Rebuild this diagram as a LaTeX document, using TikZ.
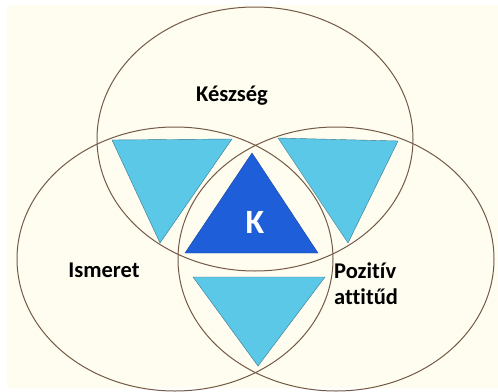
\documentclass[tikz,border=0pt]{standalone}
\usepackage{fontspec}
\setmainfont[Ligatures={NoCommon}]{Carlito}
\usetikzlibrary{shapes.geometric, positioning}
\definecolor{bgcream}{RGB}{254, 253, 240}
\definecolor{ringbrown}{RGB}{115, 90, 70}
\definecolor{lightcyan}{RGB}{91, 200, 232}
\definecolor{deepblue}{RGB}{30, 95, 217}

\begin{document}
\begin{tikzpicture}[
    x=1pt, y=-1pt,
    ring/.style={draw=ringbrown, ellipse, line width=1pt,
        minimum width=316pt, minimum height=264pt, inner sep=0pt},
    sidetri/.style={fill=lightcyan, draw=lightcyan!60!black, line width=0.4pt},
    coretri/.style={fill=deepblue, draw=deepblue!70!black, line width=0.4pt},
    lbl/.style={font=\bfseries\fontsize{22.5}{26}\selectfont, inner sep=0pt}
]
    \useasboundingbox (0,0) rectangle (498,391);
    \fill[white] (0,0) rectangle (498,391);
    \fill[bgcream] (7,5) rectangle (498,388);

    % triangles
    \draw[sidetri] (112,140) -- (232,139) -- (160,243) -- cycle;
    \draw[sidetri] (278,138) -- (398,141) -- (348,243) -- cycle;
    \draw[sidetri] (193,277) -- (325,277) -- (258,366) -- cycle;
    \draw[coretri] (252,153) -- (318,253) -- (185,253) -- cycle;

    % rings
    \node[ring] (keszseg) at (255,139) {};
    \node[ring] (ismeret) at (175,259) {};
    \node[ring] (attitud) at (336,259) {};

    % labels
    \node[lbl, anchor=base] (keszseglbl) at (232,101) {Készség};
    \node[lbl, anchor=base] (ismeretlbl) at (104,277) {Ismeret};
    \node[lbl, anchor=base west, align=left] (attitudlbl) at (334,304) {Pozitív\\attitűd};
    \node[lbl, anchor=base, text=white, font=\bfseries\fontsize{34}{40}\selectfont]
        (kompetencia) at (255,233) {K};
\end{tikzpicture}
\end{document}
